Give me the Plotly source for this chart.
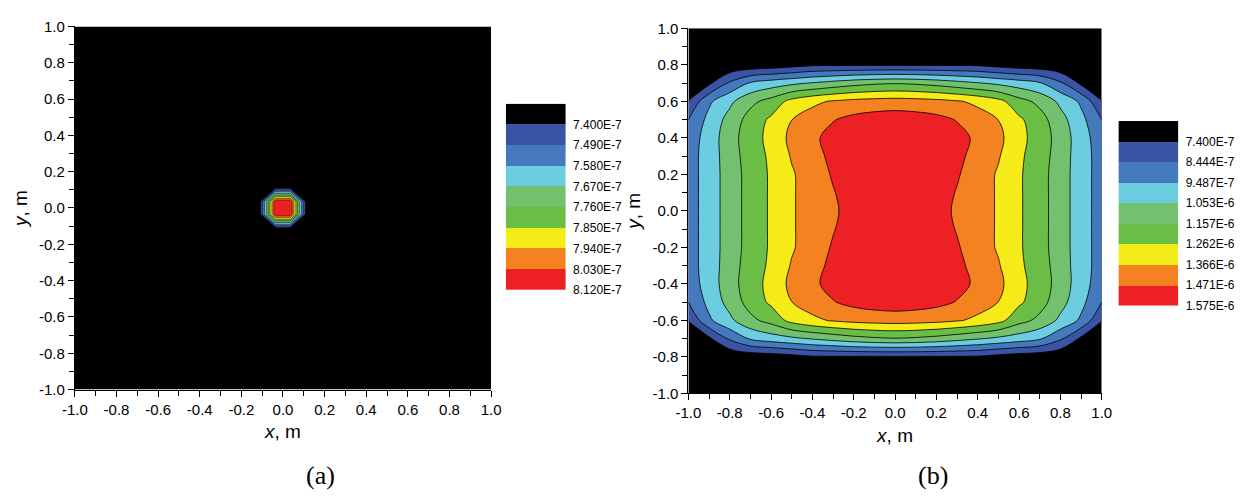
import numpy as np
import plotly.graph_objects as go

# Fill colours from the lowest band (below the first level) to the highest
band_colors = ["#000000", "#3a53a4", "#4479be", "#6dcde0", "#72c16e",
               "#6abd45", "#f5eb19", "#f58220", "#ed2024"]

# Level labels shown next to each colour key
labels_a = ["7.400E-7", "7.490E-7", "7.580E-7", "7.670E-7", "7.760E-7",
            "7.850E-7", "7.940E-7", "8.030E-7", "8.120E-7"]
labels_b = ["7.400E-7", "8.444E-7", "9.487E-7", "1.053E-6", "1.157E-6",
            "1.262E-6", "1.366E-6", "1.471E-6", "1.575E-6"]

# Contour levels (first level and spacing)
start_a, step_a = 7.400e-7, 0.090e-7
start_b, step_b = 7.400e-7, 1.04375e-7

# Axis tick labels, m
axis_ticks = ["-1.0", "-0.8", "-0.6", "-0.4", "-0.2", "0.0",
              "0.2", "0.4", "0.6", "0.8", "1.0"]

# Field (a): one quadrant (rows = y, columns = x), grid coordinates in m,
# values in units of 1e-7
grid_a = [0.0, 0.035, 0.11, 1.0]
quad_a = [
    [8.12, 8.12, 7.37, 7.00],
    [8.12, 8.12, 7.37, 7.00],
    [7.37, 7.37, 7.00, 7.00],
    [7.00, 7.00, 7.00, 7.00],
]

# Field (b): one quadrant on a 0.1 m grid, values in units of 1e-7
grid_b = [0.0, 0.1, 0.2, 0.3, 0.4, 0.5, 0.6, 0.7, 0.8, 0.9, 1.0]
quad_b = [
    [15.55, 15.45, 15.10, 14.55, 14.15, 13.55, 12.75, 12.00, 11.00, 10.00, 9.00],
    [15.60, 15.50, 15.15, 14.65, 14.15, 13.55, 12.75, 12.00, 11.00, 10.00, 9.00],
    [15.65, 15.55, 15.25, 14.80, 14.20, 13.55, 12.75, 12.00, 11.00, 10.00, 9.00],
    [15.70, 15.60, 15.35, 14.95, 14.35, 13.75, 12.80, 12.10, 11.05, 10.00, 9.00],
    [15.70, 15.65, 15.45, 15.05, 14.50, 13.95, 12.90, 12.20, 11.10, 10.00, 8.85],
    [15.30, 15.20, 15.00, 14.65, 14.10, 13.65, 12.80, 12.00, 10.90, 9.80, 8.44],
    [14.10, 14.05, 13.95, 13.75, 13.45, 12.95, 11.95, 11.30, 10.30, 9.30, 7.45],
    [11.50, 11.40, 11.20, 10.90, 10.60, 10.30, 10.00, 9.60, 8.60, 7.20, 6.50],
    [7.27, 7.27, 7.27, 7.26, 7.25, 7.00, 6.80, 6.70, 6.50, 6.30, 6.00],
    [6.50, 6.50, 6.50, 6.50, 6.40, 6.30, 6.20, 6.10, 6.00, 5.90, 5.80],
    [6.00, 6.00, 6.00, 6.00, 6.00, 5.90, 5.80, 5.70, 5.60, 5.50, 5.40],
]


def mirror(coords, quad, unit=1e-7):
    """Unfold a first-quadrant grid into the full symmetric field."""
    c = np.asarray(coords, dtype=float)
    q = np.asarray(quad, dtype=float) * unit
    full_c = np.concatenate([-c[:0:-1], c])
    q = np.concatenate([q[:0:-1, :], q], axis=0)
    q = np.concatenate([q[:, :0:-1], q], axis=1)
    return full_c, q


xa, za = mirror(grid_a, quad_a)
xb, zb = mirror(grid_b, quad_b)

W, H = 1257, 500
scale = [[i / 8, c] for i, c in enumerate(band_colors)]
FONT = "Liberation Sans, Arial, sans-serif"


def px_x(a, b):
    return [a / W, b / W]


def px_y(top, bottom):
    return [1 - bottom / H, 1 - top / H]


fig = go.Figure()

fig.add_trace(go.Contour(
    x=xa, y=xa, z=za, xaxis="x", yaxis="y",
    autocontour=False,
    contours=dict(start=start_a, end=start_a + 7 * step_a, size=step_a,
                  coloring="fill"),
    colorscale=scale, showscale=False, hoverinfo="skip",
    line=dict(color="black", width=0.5, smoothing=0),
))

fig.add_trace(go.Contour(
    x=xb, y=xb, z=zb, xaxis="x2", yaxis="y2",
    autocontour=False,
    contours=dict(start=start_b, end=start_b + 7 * step_b, size=step_b,
                  coloring="fill"),
    colorscale=scale, showscale=False, hoverinfo="skip",
    line=dict(color="black", width=0.8, smoothing=1.0),
))

# Colour keys: one cell per band, black band at the top
key_idx = list(range(len(band_colors)))
for xa_name, ya_name in (("x3", "y3"), ("x4", "y4")):
    fig.add_trace(go.Heatmap(
        z=[[k] for k in key_idx], x=[0], y=key_idx,
        xaxis=xa_name, yaxis=ya_name,
        colorscale=scale, zmin=0, zmax=8, showscale=False, hoverinfo="skip",
    ))

tick_vals = [float(t) for t in axis_ticks]
main_axis = dict(
    range=[-1, 1], tickmode="array", tickvals=tick_vals, ticktext=axis_ticks,
    ticks="outside", ticklen=6, tickwidth=1, tickcolor="black",
    showline=True, linecolor="black", linewidth=1,
    showgrid=False, zeroline=False,
    tickfont=dict(family=FONT, size=15, color="black"),
    minor=dict(tick0=-1, dtick=0.1, ticks="outside", ticklen=5,
               tickcolor="black", showgrid=False),
)
title_font = dict(family=FONT, size=19, color="black")

key_x = dict(range=[-0.5, 0.5], visible=False, fixedrange=True)


def key_y(labels, domain, anchor):
    return dict(
        domain=domain, anchor=anchor, range=[8.5, -0.5], side="right",
        tickmode="array", tickvals=[k + 0.5 for k in range(len(labels))],
        ticktext=labels, ticks="outside", ticklen=4,
        tickcolor="rgba(0,0,0,0)", showline=False, showgrid=False,
        zeroline=False, tickfont=dict(family=FONT, size=12, color="black"),
    )


fig.update_layout(
    width=W, height=H,
    margin=dict(l=0, r=0, t=0, b=0),
    paper_bgcolor="white", plot_bgcolor="white",
    showlegend=False,
    xaxis=dict(main_axis, domain=px_x(63, 487), anchor="y",
               title=dict(text="<i>x</i>, m", font=title_font, standoff=8)),
    yaxis=dict(main_axis, domain=px_y(18, 394), anchor="x",
               title=dict(text="<i>y</i>, m", font=title_font, standoff=6)),
    xaxis2=dict(main_axis, domain=px_x(688, 1109), anchor="y2",
                title=dict(text="<i>x</i>, m", font=title_font, standoff=8)),
    yaxis2=dict(main_axis, domain=px_y(20, 398), anchor="x2",
                title=dict(text="<i>y</i>, m", font=title_font, standoff=6)),
    xaxis3=dict(key_x, domain=px_x(502, 563), anchor="y3"),
    yaxis3=key_y(labels_a, px_y(98, 291), "x3"),
    xaxis4=dict(key_x, domain=px_x(1126, 1187), anchor="y4"),
    yaxis4=key_y(labels_b, px_y(116, 307), "x4"),
    annotations=[
        dict(text="(a)", x=313 / W, y=1 - 483 / H, xref="paper", yref="paper",
             showarrow=False, xanchor="center", yanchor="middle",
             font=dict(family="Liberation Serif, serif", size=26, color="black")),
        dict(text="(b)", x=937 / W, y=1 - 483 / H, xref="paper", yref="paper",
             showarrow=False, xanchor="center", yanchor="middle",
             font=dict(family="Liberation Serif, serif", size=26, color="black")),
    ],
)

fig.write_html("out.html")
